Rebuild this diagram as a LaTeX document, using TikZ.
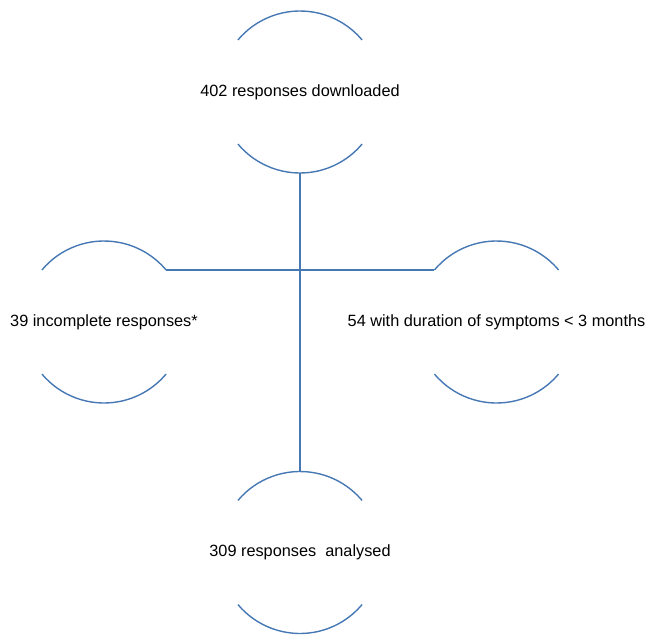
\documentclass[tikz,border=0pt]{standalone}
\usepackage{fontspec}
\setmainfont{Liberation Sans}
\definecolor{arcblue}{RGB}{70,120,180}
\begin{document}
\begin{tikzpicture}[x=1pt,y=-1pt,
  lbl/.style={inner sep=0pt, font=\fontsize{16.3}{19}\selectfont},
  arcline/.style={draw=arcblue, line width=1.4pt},
  conn/.style={draw=arcblue, line width=1.4pt}]
\useasboundingbox (0,0) rectangle (646,635);
% nodes (texts centred in their arc pairs)
\node[lbl] (top) at (300,92) {402 responses downloaded};
\node[lbl] (left) at (104,322) {39 incomplete responses*};
\node[lbl] (right) at (496.5,322) {54 with duration of symptoms < 3 months};
\node[lbl] (bot) at (300,552.5) {309 responses\ \ analysed};
% arcs around each node
\foreach \n in {top,left,right,bot}{
  \draw[arcline] ([shift={(140:81pt)}]\n.center) arc[start angle=140,end angle=40,radius=81pt];
  \draw[arcline] ([shift={(220:81pt)}]\n.center) arc[start angle=220,end angle=320,radius=81pt];
}
% connector end points on the arcs
\coordinate (topS) at ([shift={(270:81pt)}]top.center);
\coordinate (botN) at ([shift={(90:81pt)}]bot.center);
\coordinate (leftNE) at ([shift={(40:81pt)}]left.center);
\coordinate (rightNW) at ([shift={(140:81pt)}]right.center);
\draw[conn] (topS) -- (botN);
\draw[conn] (leftNE) -- (rightNW);
\end{tikzpicture}
\end{document}
